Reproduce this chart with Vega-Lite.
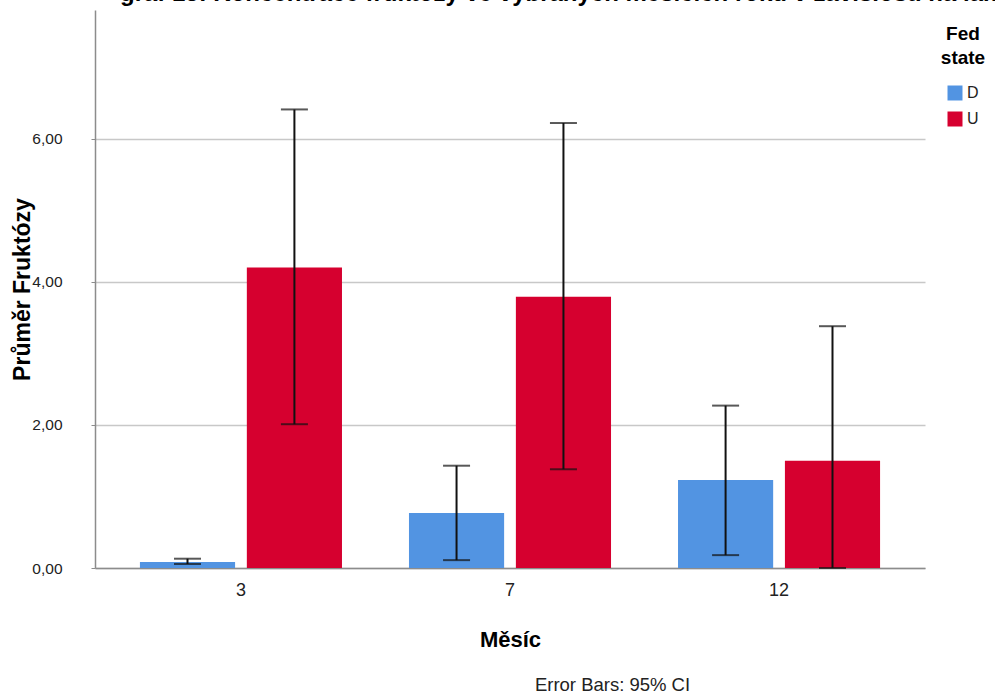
{
  "$schema": "https://vega.github.io/schema/vega-lite/v6.json",
  "autosize": {"type": "none"},
  "padding": {"left": 95, "top": 10, "right": 70, "bottom": 127},
  "width": 830,
  "height": 558,
  "background": "white",
  "config": {
    "font": "Liberation Sans",
    "view": {"stroke": null}
  },
  "title": {
    "text": "graf 13: Koncentrace fruktózy ve vybraných měsících roku v závislosti na laktaci",
    "anchor": "start",
    "frame": "group",
    "dx": 25,
    "offset": -15,
    "baseline": "alphabetic",
    "fontSize": 24,
    "fontWeight": "bold",
    "color": "#000000",
    "font": "Liberation Sans"
  },
  "data": {
    "values": [
      {"month": "3", "fed": "D", "mean": 0.084, "lo": 0.056, "hi": 0.13},
      {"month": "3", "fed": "U", "mean": 4.2, "lo": 2.01, "hi": 6.41},
      {"month": "7", "fed": "D", "mean": 0.77, "lo": 0.11, "hi": 1.43},
      {"month": "7", "fed": "U", "mean": 3.79, "lo": 1.38, "hi": 6.22},
      {"month": "12", "fed": "D", "mean": 1.23, "lo": 0.18, "hi": 2.27},
      {"month": "12", "fed": "U", "mean": 1.5, "lo": 0.0, "hi": 3.38}
    ]
  },
  "resolve": {"axis": {"x": "independent"}},
  "layer": [
    {
      "mark": {"type": "bar"},
      "encoding": {
        "x": {
          "field": "month", "type": "nominal", "sort": ["3", "7", "12"],
          "scale": {"paddingInner": 0.249, "paddingOuter": 0.167},
          "axis": {
            "title": "Měsíc", "titleFontSize": 22, "titleFontWeight": "bold", "titleColor": "#000000",
            "titlePadding": 30,
            "labelAngle": 0, "labelFontSize": 18, "labelColor": "#222222", "labelPadding": 13,
            "ticks": false, "domainColor": "#8c8c8c", "domainWidth": 1.5, "grid": false
          }
        },
        "xOffset": {"field": "fed", "type": "nominal", "sort": ["D", "U"], "scale": {"paddingInner": 0.11}},
        "y": {
          "field": "mean", "type": "quantitative",
          "scale": {"domain": [0, 7.8], "nice": false, "zero": true},
          "axis": {
            "title": "Průměr Fruktózy", "titleFontSize": 23, "titleFontWeight": "bold", "titleColor": "#000000",
            "titlePadding": -3,
            "values": [0, 2, 4, 6],
            "labelExpr": "replace(format(datum.value, '.2f'), '.', ',')",
            "labelFontSize": 15.5, "labelColor": "#222222", "labelPadding": 29,
            "tickSize": 4, "tickColor": "#8c8c8c",
            "domainColor": "#8c8c8c", "domainWidth": 1.5,
            "grid": true, "gridColor": "#c8c8c8", "gridWidth": 1.5
          }
        },
        "color": {
          "field": "fed", "type": "nominal",
          "scale": {"domain": ["D", "U"], "range": ["#5294E2", "#D6002F"]},
          "legend": {
            "title": ["Fed", "state"], "titleFontSize": 19, "titleFontWeight": "bold", "titleColor": "#000000",
            "titleAlign": "center", "titleAnchor": "middle", "titleLineHeight": 24, "titlePadding": 17,
            "orient": "none", "legendX": 846, "legendY": 15,
            "symbolType": "square", "symbolSize": 225, "symbolStrokeWidth": 0,
            "labelFontSize": 16, "labelColor": "#222222", "rowPadding": 10, "labelOffset": 4
          }
        }
      }
    },
    {
      "mark": {"type": "rule", "color": "#111111", "strokeWidth": 2},
      "encoding": {
        "x": {"field": "month", "type": "nominal", "sort": ["3", "7", "12"], "axis": null},
        "xOffset": {"field": "fed", "type": "nominal", "sort": ["D", "U"]},
        "y": {"field": "lo", "type": "quantitative"},
        "y2": {"field": "hi"}
      }
    },
    {
      "mark": {"type": "tick", "color": "#111111", "thickness": 2, "size": 27},
      "encoding": {
        "x": {"field": "month", "type": "nominal", "sort": ["3", "7", "12"], "axis": null},
        "xOffset": {"field": "fed", "type": "nominal", "sort": ["D", "U"]},
        "y": {"field": "lo", "type": "quantitative"}
      }
    },
    {
      "mark": {"type": "tick", "color": "#111111", "thickness": 2, "size": 27},
      "encoding": {
        "x": {"field": "month", "type": "nominal", "sort": ["3", "7", "12"], "axis": null},
        "xOffset": {"field": "fed", "type": "nominal", "sort": ["D", "U"]},
        "y": {"field": "hi", "type": "quantitative"}
      }
    },
    {
      "mark": {"type": "tick", "opacity": 0},
      "encoding": {
        "x": {
          "field": "month", "type": "nominal", "sort": ["3", "7", "12"],
          "axis": {
            "orient": "bottom", "title": "Error Bars: 95% CI", "titleFontSize": 18.5, "titleFontWeight": "normal",
            "titleColor": "#222222", "labels": false, "ticks": false, "domain": false, "grid": false,
            "titlePadding": 107, "titleX": 517, "titleAlign": "center"
          }
        },
        "y": {"datum": 0, "type": "quantitative"}
      }
    }
  ]
}
